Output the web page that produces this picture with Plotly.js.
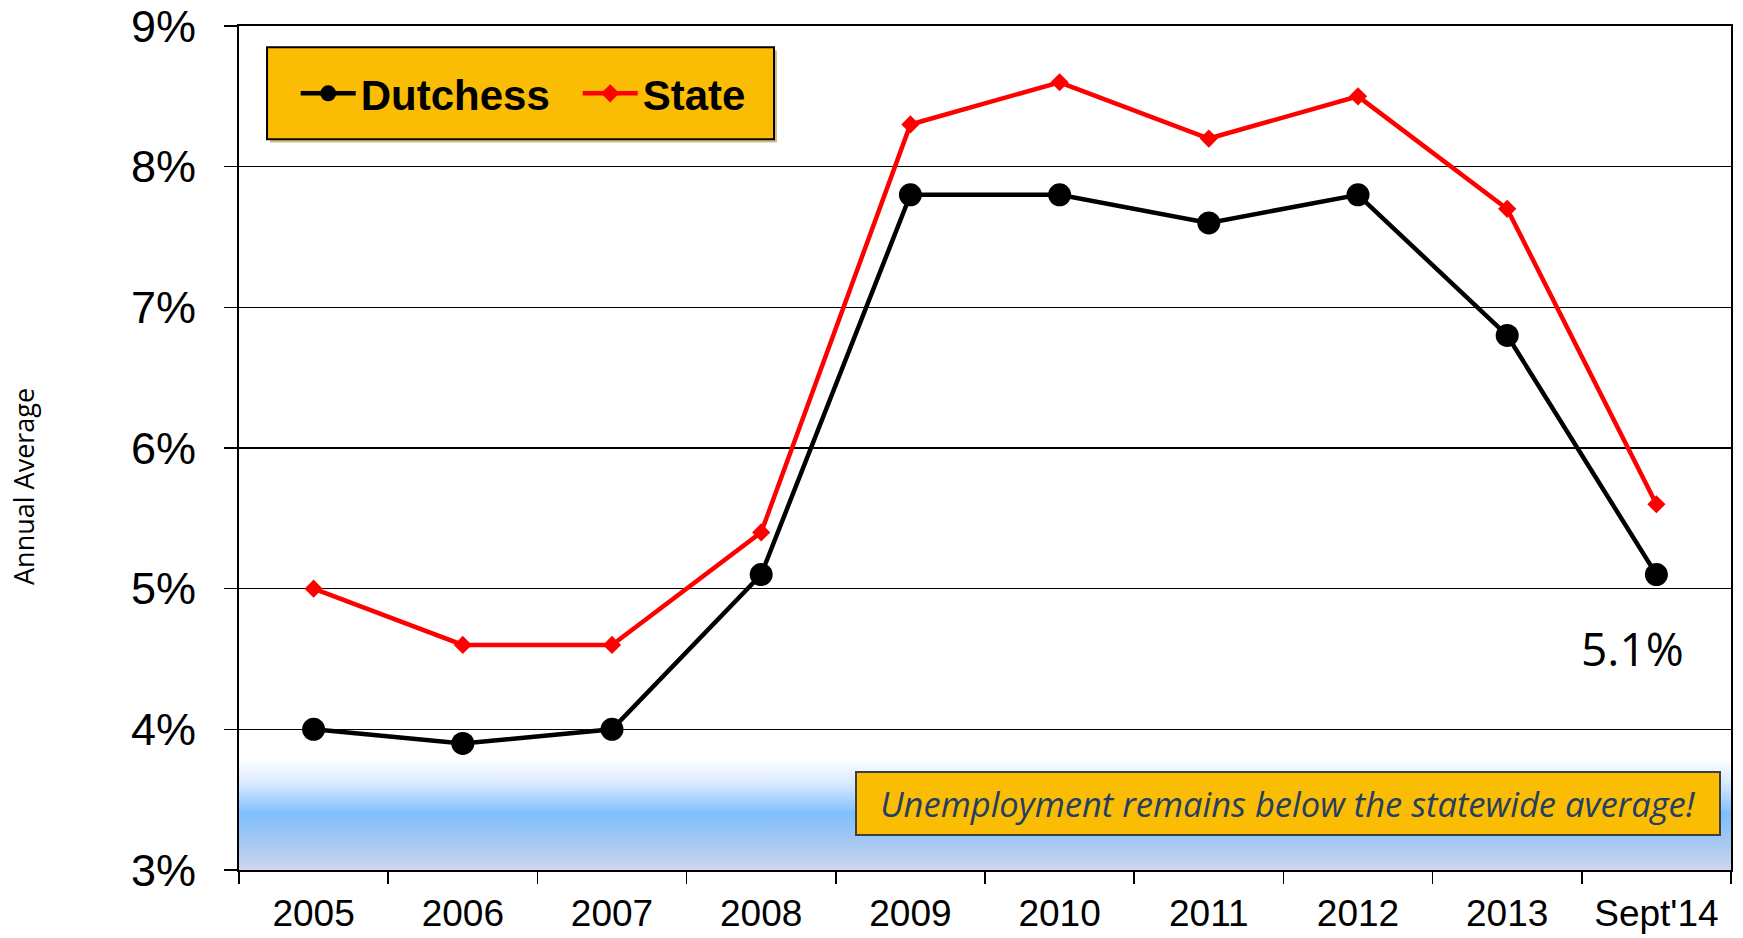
<!DOCTYPE html>
<html>
<head>
<meta charset="utf-8">
<script src="https://cdn.plot.ly/plotly-3.0.1.min.js"></script>
<style>
  html, body { margin: 0; padding: 0; background: #ffffff; }
  #chart { width: 1743px; height: 938px; }
</style>
</head>
<body>
<div id="chart"></div>
<script>
// ---- data ----
const periods = ['2005', '2006', '2007', '2008', '2009', '2010', '2011', '2012', '2013', "Sept'14"];
const dutchess = [4.0, 3.9, 4.0, 5.1, 7.8, 7.8, 7.6, 7.8, 6.8, 5.1];
const state = [5.0, 4.6, 4.6, 5.4, 8.3, 8.6, 8.2, 8.5, 7.7, 5.6];
const seriesNames = ['Dutchess', 'State'];
const yTickVals = [3, 4, 5, 6, 7, 8, 9];
const yTickText = ['3%', '4%', '5%', '6%', '7%', '8%', '9%'];
const latestLabel = '5.1%';
const noteText = 'Unemployment remains below the statewide average!';
const yTitle = 'Annual Average';

// ---- styles ----
const amber = '#FBBC04';
const gradientSvg =
  '<svg xmlns="http://www.w3.org/2000/svg" width="10" height="100" preserveAspectRatio="none" viewBox="0 0 10 100">' +
  '<defs><linearGradient id="g" x1="0" y1="0" x2="0" y2="1">' +
  '<stop offset="0" stop-color="#ffffff"/>' +
  '<stop offset="0.22" stop-color="#dcebff"/>' +
  '<stop offset="0.5" stop-color="#80bfff"/>' +
  '<stop offset="0.78" stop-color="#a9c9f0"/>' +
  '<stop offset="1" stop-color="#cfd6ec"/>' +
  '</linearGradient></defs><rect x="0" y="0" width="10" height="100" fill="url(#g)"/></svg>';
const gradientSrc = 'data:image/svg+xml;base64,' + btoa(gradientSvg);

const traces = [
  {
    x: periods, y: dutchess, name: seriesNames[0], type: 'scatter', mode: 'lines+markers',
    line: { color: '#000000', width: 4.5 },
    marker: { symbol: 'circle', size: 23, color: '#000000' }
  },
  {
    x: periods, y: state, name: seriesNames[1], type: 'scatter', mode: 'lines+markers',
    line: { color: '#FF0000', width: 4.5 },
    marker: { symbol: 'diamond', size: 14, color: '#FF0000' }
  }
];

const layout = {
  width: 1743, height: 938,
  margin: { l: 239, r: 12, t: 26, b: 68 },
  paper_bgcolor: '#ffffff', plot_bgcolor: '#ffffff',
  showlegend: true,
  legend: {
    orientation: 'h', x: 0.038, xanchor: 'left', y: 0.920, yanchor: 'middle',
    bgcolor: 'rgba(0,0,0,0)', borderwidth: 0,
    font: { family: 'Liberation Sans, Arial, sans-serif', size: 42, color: '#000000', weight: 'bold' },
    itemwidth: 55, entrywidth: 212, traceorder: 'normal'
  },
  xaxis: {
    type: 'category', tickson: 'boundaries', range: [-0.5, 9.5],
    showline: true, mirror: true, linecolor: '#000000', linewidth: 2,
    ticks: 'outside', ticklen: 12, tickwidth: 1.5, tickcolor: '#000000',
    showgrid: false, zeroline: false,
    tickfont: { family: 'Liberation Sans, Arial, sans-serif', size: 37, color: '#000000' },
    ticklabelstandoff: 10
  },
  yaxis: {
    range: [3, 9], tickmode: 'array', tickvals: yTickVals, ticktext: yTickText,
    showline: true, mirror: true, linecolor: '#000000', linewidth: 2,
    ticks: 'outside', ticklen: 13, tickwidth: 1.5, tickcolor: '#000000',
    showgrid: true, gridcolor: '#000000', gridwidth: 1.2, zeroline: false,
    tickfont: { family: 'Liberation Sans, Arial, sans-serif', size: 45, color: '#000000' },
    ticklabelstandoff: 19, ticklabeloverflow: 'allow'
  },
  images: [{
    source: gradientSrc, xref: 'paper', yref: 'y', x: 0, y: 3.8, sizex: 1, sizey: 0.8,
    xanchor: 'left', yanchor: 'top', sizing: 'stretch', layer: 'below'
  }],
  shapes: [
    { type: 'rect', xref: 'paper', yref: 'paper', x0: 0.0208, x1: 0.3606, y0: 0.8620, y1: 0.9710,
      fillcolor: 'rgba(150,110,0,0.45)', line: { width: 0 }, layer: 'above' },
    { type: 'rect', xref: 'paper', yref: 'paper', x0: 0.0188, x1: 0.3586, y0: 0.8657, y1: 0.9747,
      fillcolor: amber, line: { color: '#000000', width: 2 }, layer: 'above' }
  ],
  annotations: [
    {
      x: periods[periods.length - 1], y: 4.58, xref: 'x', yref: 'y', xshift: -24,
      text: latestLabel, showarrow: false,
      font: { family: 'Open Sans, sans-serif', size: 46, color: '#000000' }
    },
    {
      x: 0.703, y: 3.472, xref: 'paper', yref: 'y', xanchor: 'center', yanchor: 'middle',
      text: '<i>' + noteText + '</i>', showarrow: false,
      width: 862, height: 61, borderpad: 0,
      bgcolor: amber, bordercolor: '#3F3F3F', borderwidth: 2,
      font: { family: 'Open Sans, sans-serif', size: 34.5, color: '#243F60' }
    },
    {
      x: -0.1441, y: 0.4538, xref: 'paper', yref: 'paper', xanchor: 'center', yanchor: 'middle',
      text: yTitle, textangle: -90, showarrow: false,
      font: { family: 'Open Sans, sans-serif', size: 27, color: '#000000' }
    }
  ]
};

Plotly.newPlot('chart', traces, layout, { displayModeBar: false, staticPlot: true });
</script>
</body>
</html>
